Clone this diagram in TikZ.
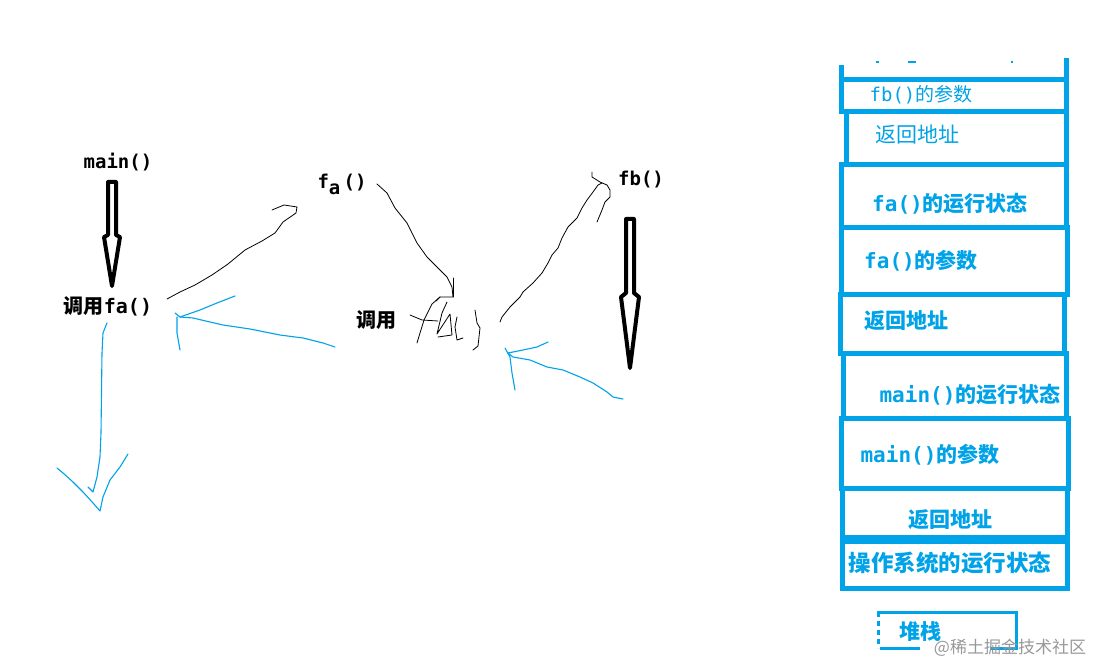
\documentclass[tikz,border=0pt]{standalone}
\usepackage{fontspec}
\setmainfont{DejaVu Sans Mono}
\newfontfamily\cjk{Noto Sans CJK SC}
\definecolor{pb}{HTML}{00A2E8}
\newcommand\zh[1]{{\cjk #1}}
\newcommand\fsz[1]{\fontsize{#1}{#1}\selectfont}
\begin{document}
\begin{tikzpicture}[x=1pt,y=-1pt,
  blk/.style={inner sep=0pt, font=\bfseries\fsz{19}},
  stk/.style={inner sep=0pt, text=pb, font=\bfseries\fsz{21}},
  stkl/.style={inner sep=0pt, text=pb, font=\fsz{19}},
  boxline/.style={draw=pb, line width=5pt},
  hand/.style={line width=0.8pt, line join=round, line cap=round},
  bhand/.style={draw=pb, line width=1.1pt, line join=round, line cap=round},
  hollow/.style={line width=4pt, line join=round, fill=white}]
\useasboundingbox (0,0) rectangle (1095,663);
\fill[white] (0,0) rectangle (1095,663);

% ---------- left: call chain ----------
\node[blk] (main) at (118,162) {main()};
\node[blk, font=\bfseries\fsz{20}] (callfa) at (108,306) {\zh{调用}fa()};
\node[blk] (fa) at (342,184) {f\raisebox{-6pt}{a}\,()};
\node[blk, font=\bfseries\fsz{20}] (callfb) at (376,320) {\zh{调用}};
\node[blk] (fb) at (641,180) {fb()};

% hollow arrows
\draw[hollow] (108,182) -- (116,182) -- (116,235) -- (120,237) -- (112,286) -- (104,237) -- (108,235) -- cycle;
\draw[hollow] (626,219) -- (634,219) -- (634,293) -- (639,297) -- (630,368) -- (621,297) -- (626,293) -- cycle;

% black hand-drawn lines
\coordinate (l1s) at (167,299);
\draw[hand] (l1s) -- (180,292) -- (195,285) -- (212,275) -- (228,264) -- (245,250) -- (262,241) -- (275,233) -- (283,222) -- (296,213) -- (297,207) -- (284,205) -- (272,210);
\draw[hand] (377,184) -- (387,193) -- (395,208) -- (407,223) -- (417,243) -- (427,257) -- (437,267) -- (447,277) -- (452,287) -- (453,297) -- (440,297) -- (436,301);
\draw[hand] (453,278) -- (453,297);
% handwritten "fa)"
\draw[hand] (410,315) -- (422,320) -- (438,321);
\draw[hand] (440,297) -- (432,304) -- (424,320) -- (420,333) -- (417,343);
\draw[hand] (447,302) -- (442,313) -- (437,334) -- (450,314) -- (452,335) -- (438,337);
\draw[hand] (457,317) -- (455,327) -- (457,340) -- (463,338);
\draw[hand] (475,310) -- (477,323) -- (480,328) -- (478,346) -- (473,350);
% line to fb
\draw[hand] (500,322) -- (502,317) -- (510,307) -- (520,297) -- (523,292) -- (533,283) -- (542,273) -- (548,263) -- (552,255) -- (558,248) -- (562,238) -- (568,227) -- (577,218) -- (582,208) -- (587,200) -- (593,192) -- (598,185) -- (602,183);
\draw[hand] (592,172) -- (592,177) -- (600,182) -- (607,185) -- (610,190) -- (610,197) -- (605,202) -- (602,210) -- (597,222);

% blue hand-drawn arrows
\draw[bhand] (335,347) -- (323,343) -- (303,338) -- (280,335) -- (250,329) -- (223,325) -- (210,322) -- (193,318) -- (180,317) -- (175,313);
\draw[bhand] (180,317) -- (200,310) -- (217,303) -- (235,296);
\draw[bhand] (177,317) -- (177,333) -- (180,350);
\draw[bhand] (623,399) -- (613,397) -- (607,392) -- (593,383) -- (580,377) -- (563,370) -- (547,367) -- (530,360) -- (513,357) -- (508,353);
\draw[bhand] (508,353) -- (523,350) -- (537,347) -- (548,342);
\draw[bhand] (505,348) -- (510,357) -- (512,373) -- (515,390);
\draw[bhand] (107,323) -- (103,333) -- (102,353) -- (101,433) -- (100,457) -- (97,477) -- (93,492) -- (88,487);
\draw[bhand] (57,468) -- (63,473) -- (73,482) -- (83,492) -- (93,503) -- (100,511) -- (103,497) -- (110,480) -- (120,467) -- (128,454);

% ---------- right: stack ----------
\draw[boxline] (841,65) -- (841,80);
\draw[boxline] (1066,58) -- (1066,80);
\draw[pb, line width=2pt] (876,62) -- (879,62) (908,62) -- (916,62) (1011,62) -- (1013,62);
\draw[boxline] (841,80) rectangle (1066,112);
\draw[boxline] (846,112) rectangle (1066,165);
\draw[boxline] (841,165) rectangle (1066,228);
\draw[boxline] (841,228) rectangle (1067,294);
\draw[boxline] (840,294) rectangle (1064,353);
\draw[boxline] (843,353) rectangle (1066,418);
\draw[boxline] (841,418) rectangle (1068,488);
\draw[boxline] (842,488) rectangle (1067,537);
\draw[boxline] (842,541) rectangle (1067,588);

\node[stkl] (s1) at (921,95) {fb()\zh{的参数}};
\node[stkl, font=\fsz{21}] (s2) at (917,135) {\zh{返回地址}};
\node[stk] (s3) at (950,204) {fa()\zh{的运行状态}};
\node[stk] (s4) at (921,261) {fa()\zh{的参数}};
\node[stk] (s5) at (906,321) {\zh{返回地址}};
\node[stk] (s6) at (970,395) {main()\zh{的运行状态}};
\node[stk] (s7) at (930,455) {main()\zh{的参数}};
\node[stk] (s8) at (950,520) {\zh{返回地址}};
\node[stk, font=\bfseries\fsz{22.5}] (s9) at (950,563) {\zh{操作系统的运行状态}};

% heap/stack label box
\draw[pb, line width=3pt] (877,612) -- (1016,612) -- (1016,648) -- (990,648);
\draw[pb, line width=3pt] (920,648) -- (880,648);
\draw[pb, line width=3pt, dash pattern=on 5pt off 4pt] (878,612) -- (878,648);
\node[stk] (heap) at (920,632) {\zh{堆栈}};
\node[inner sep=0pt, text=black!40, font=\cjk\fsz{17}] (wm) at (1010,648) {@稀土掘金技术社区};
\end{tikzpicture}
\end{document}
